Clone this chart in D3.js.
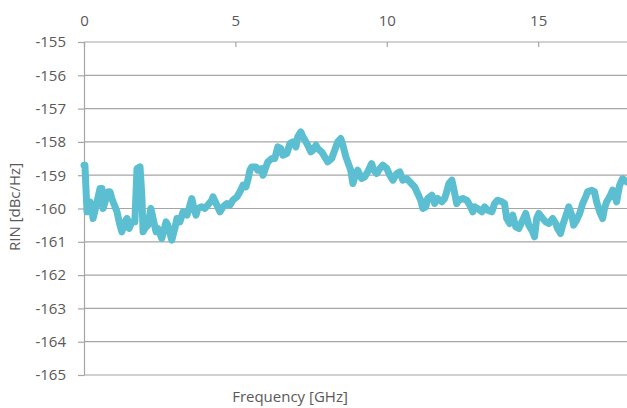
<!DOCTYPE html>
<html>
<head>
<meta charset="utf-8">
<script src="https://cdn.jsdelivr.net/npm/d3@7"></script>
<style>
  body { margin: 0; background: #fff; }
  text { font-family: "Open Sans", sans-serif; }
</style>
</head>
<body>
<div id="chart"></div>
<script>
// frequency in GHz
const freq = [
  0.00, 0.03, 0.10, 0.13, 0.20, 0.26, 0.30, 0.43, 0.53, 0.59, 0.63, 0.73, 0.79, 0.86, 0.92, 0.96,
  1.09, 1.16, 1.25, 1.35, 1.42, 1.49, 1.58, 1.68, 1.75, 1.85, 1.91, 1.95, 2.01, 2.11, 2.21, 2.28,
  2.38, 2.44, 2.57, 2.71, 2.77, 2.90, 3.00, 3.07, 3.17, 3.27, 3.40, 3.47, 3.56, 3.63, 3.70, 3.76,
  3.89, 3.99, 4.09, 4.22, 4.26, 4.39, 4.49, 4.59, 4.72, 4.82, 4.92, 5.05, 5.15, 5.25, 5.35, 5.41,
  5.48, 5.54, 5.68, 5.74, 5.87, 5.91, 5.97, 6.07, 6.20, 6.30, 6.40, 6.50, 6.57, 6.70, 6.80, 6.90,
  7.00, 7.06, 7.16, 7.23, 7.33, 7.39, 7.49, 7.56, 7.66, 7.72, 7.85, 7.95, 8.05, 8.18, 8.28, 8.38,
  8.48, 8.55, 8.65, 8.71, 8.81, 8.88, 8.98, 9.04, 9.17, 9.27, 9.37, 9.50, 9.57, 9.67, 9.77, 9.87,
  10.00, 10.10, 10.20, 10.33, 10.43, 10.53, 10.66, 10.76, 10.86, 10.92, 11.02, 11.12, 11.19, 11.29,
  11.35, 11.49, 11.58, 11.68, 11.82, 11.91, 11.98, 12.05, 12.15, 12.21, 12.31, 12.38, 12.51, 12.64,
  12.74, 12.84, 12.90, 13.00, 13.14, 13.23, 13.33, 13.47, 13.56, 13.66, 13.80, 13.89, 13.96, 14.06,
  14.16, 14.26, 14.36, 14.49, 14.59, 14.69, 14.82, 14.88, 14.95, 15.02, 15.15, 15.25, 15.35, 15.48,
  15.58, 15.64, 15.74, 15.81, 15.94, 16.01, 16.11, 16.17, 16.27, 16.37, 16.47, 16.57, 16.63, 16.77,
  16.86, 16.93, 17.03, 17.13, 17.19, 17.26, 17.36, 17.46, 17.52, 17.59, 17.69, 17.79, 17.85, 17.92
];

// RIN in dBc/Hz
const rin = [
  -158.7, -158.7, -160.1, -160.1, -159.8, -160.0, -160.3, -159.8, -159.4, -159.4, -160.0, -159.7, -159.5, -159.5, -159.7, -159.8,
  -160.1, -160.4, -160.7, -160.4, -160.3, -160.6, -160.4, -160.4, -158.8, -158.75, -159.6, -160.7, -160.6, -160.5, -160.0, -160.3,
  -160.7, -160.6, -160.9, -160.4, -160.5, -160.95, -160.6, -160.3, -160.4, -160.1, -160.2, -160.0, -159.7, -160.0, -160.2, -160.0,
  -159.95, -160.0, -159.9, -159.75, -159.65, -159.9, -160.1, -159.95, -159.85, -159.9, -159.75, -159.65, -159.5, -159.3, -159.35, -159.15,
  -158.85, -158.75, -158.75, -158.85, -158.8, -159.0, -158.85, -158.6, -158.5, -158.5, -158.15, -158.2, -158.4, -158.35, -158.05, -158.0,
  -158.15, -157.85, -157.7, -157.85, -158.0, -158.1, -158.3, -158.25, -158.1, -158.2, -158.3, -158.45, -158.6, -158.5, -158.25, -158.0,
  -157.9, -158.1, -158.45, -158.6, -158.85, -159.25, -158.95, -158.85, -159.1, -159.05, -158.9, -158.65, -158.85, -158.95, -158.8, -158.7,
  -158.8, -159.0, -159.15, -158.95, -158.9, -159.15, -159.1, -159.2, -159.3, -159.35, -159.55, -159.75, -160.0, -159.95,
  -159.7, -159.6, -159.85, -159.7, -159.8, -159.7, -159.5, -159.25, -159.15, -159.4, -159.85, -159.75, -159.7, -159.75,
  -159.9, -160.1, -159.95, -160.0, -160.1, -159.95, -160.05, -160.1, -159.85, -159.75, -159.8, -159.85, -160.3, -160.45,
  -160.2, -160.55, -160.6, -160.35, -160.15, -160.5, -160.7, -160.85, -160.3, -160.15, -160.3, -160.4, -160.45, -160.3,
  -160.45, -160.6, -160.75, -160.5, -160.15, -159.95, -160.2, -160.5, -160.35, -160.15, -159.85, -159.65, -159.5, -159.45,
  -159.5, -159.8, -160.1, -160.3, -160.0, -159.8, -159.65, -159.45, -159.5, -159.8, -159.3, -159.1, -159.15, -159.2
];

const xTicks = [0, 5, 10, 15];
const yTicks = [-155, -156, -157, -158, -159, -160, -161, -162, -163, -164, -165];

const width = 627, height = 408;
const margin = { top: 42, right: -2, bottom: 33, left: 84 };
const gridColor = "#a6a6a6";
const textColor = "#595959";

const svg = d3.select("#chart")
    .append("svg")
    .attr("width", width)
    .attr("height", height);

const x = d3.scaleLinear()
    .domain([0, 18])
    .range([margin.left, width - margin.right]);

const y = d3.scaleLinear()
    .domain([-155, -165])
    .range([margin.top, height - margin.bottom]);

// horizontal gridlines
svg.append("g")
    .selectAll("line")
    .data(yTicks)
    .enter()
    .append("line")
    .attr("x1", margin.left)
    .attr("x2", width)
    .attr("y1", d => y(d))
    .attr("y2", d => y(d))
    .attr("stroke", gridColor)
    .attr("stroke-width", 1.2);

// y axis (plain hyphen minus, like the original)
const yAxis = svg.append("g")
    .attr("transform", `translate(${margin.left},0)`)
    .call(d3.axisLeft(y).tickValues(yTicks).tickFormat(d => String(d))
        .tickSize(6).tickPadding(12).tickSizeOuter(0));

// x axis on top
const xAxis = svg.append("g")
    .attr("transform", `translate(0,${margin.top})`)
    .call(d3.axisTop(x).tickValues(xTicks).tickFormat(d => String(d))
        .tickSize(-5).tickPadding(16).tickSizeOuter(0));

[xAxis, yAxis].forEach(a => {
    a.select(".domain").attr("stroke", gridColor).attr("stroke-width", 1.2);
    a.selectAll(".tick line").attr("stroke", gridColor).attr("stroke-width", 1.2);
    a.selectAll(".tick text")
        .attr("fill", textColor)
        .style("font-size", "15px")
        .style("font-family", "'Open Sans', sans-serif");
});
xAxis.select(".domain").remove();

// series
const points = freq.map((f, i) => ({ f: f, v: rin[i] }));

const line = d3.line()
    .x(d => x(d.f))
    .y(d => y(d.v));

svg.append("path")
    .datum(points)
    .attr("d", line)
    .attr("fill", "none")
    .attr("stroke", "#5bbfd1")
    .attr("stroke-width", 7)
    .attr("stroke-linejoin", "round")
    .attr("stroke-linecap", "round");

// axis titles
svg.append("text")
    .attr("x", 290)
    .attr("y", 402)
    .attr("text-anchor", "middle")
    .attr("fill", textColor)
    .style("font-size", "15px")
    .text("Frequency [GHz]");

svg.append("text")
    .attr("transform", "translate(20,207) rotate(-90)")
    .attr("text-anchor", "middle")
    .attr("fill", textColor)
    .style("font-size", "15px")
    .text("RIN [dBc/Hz]");
</script>
</body>
</html>
